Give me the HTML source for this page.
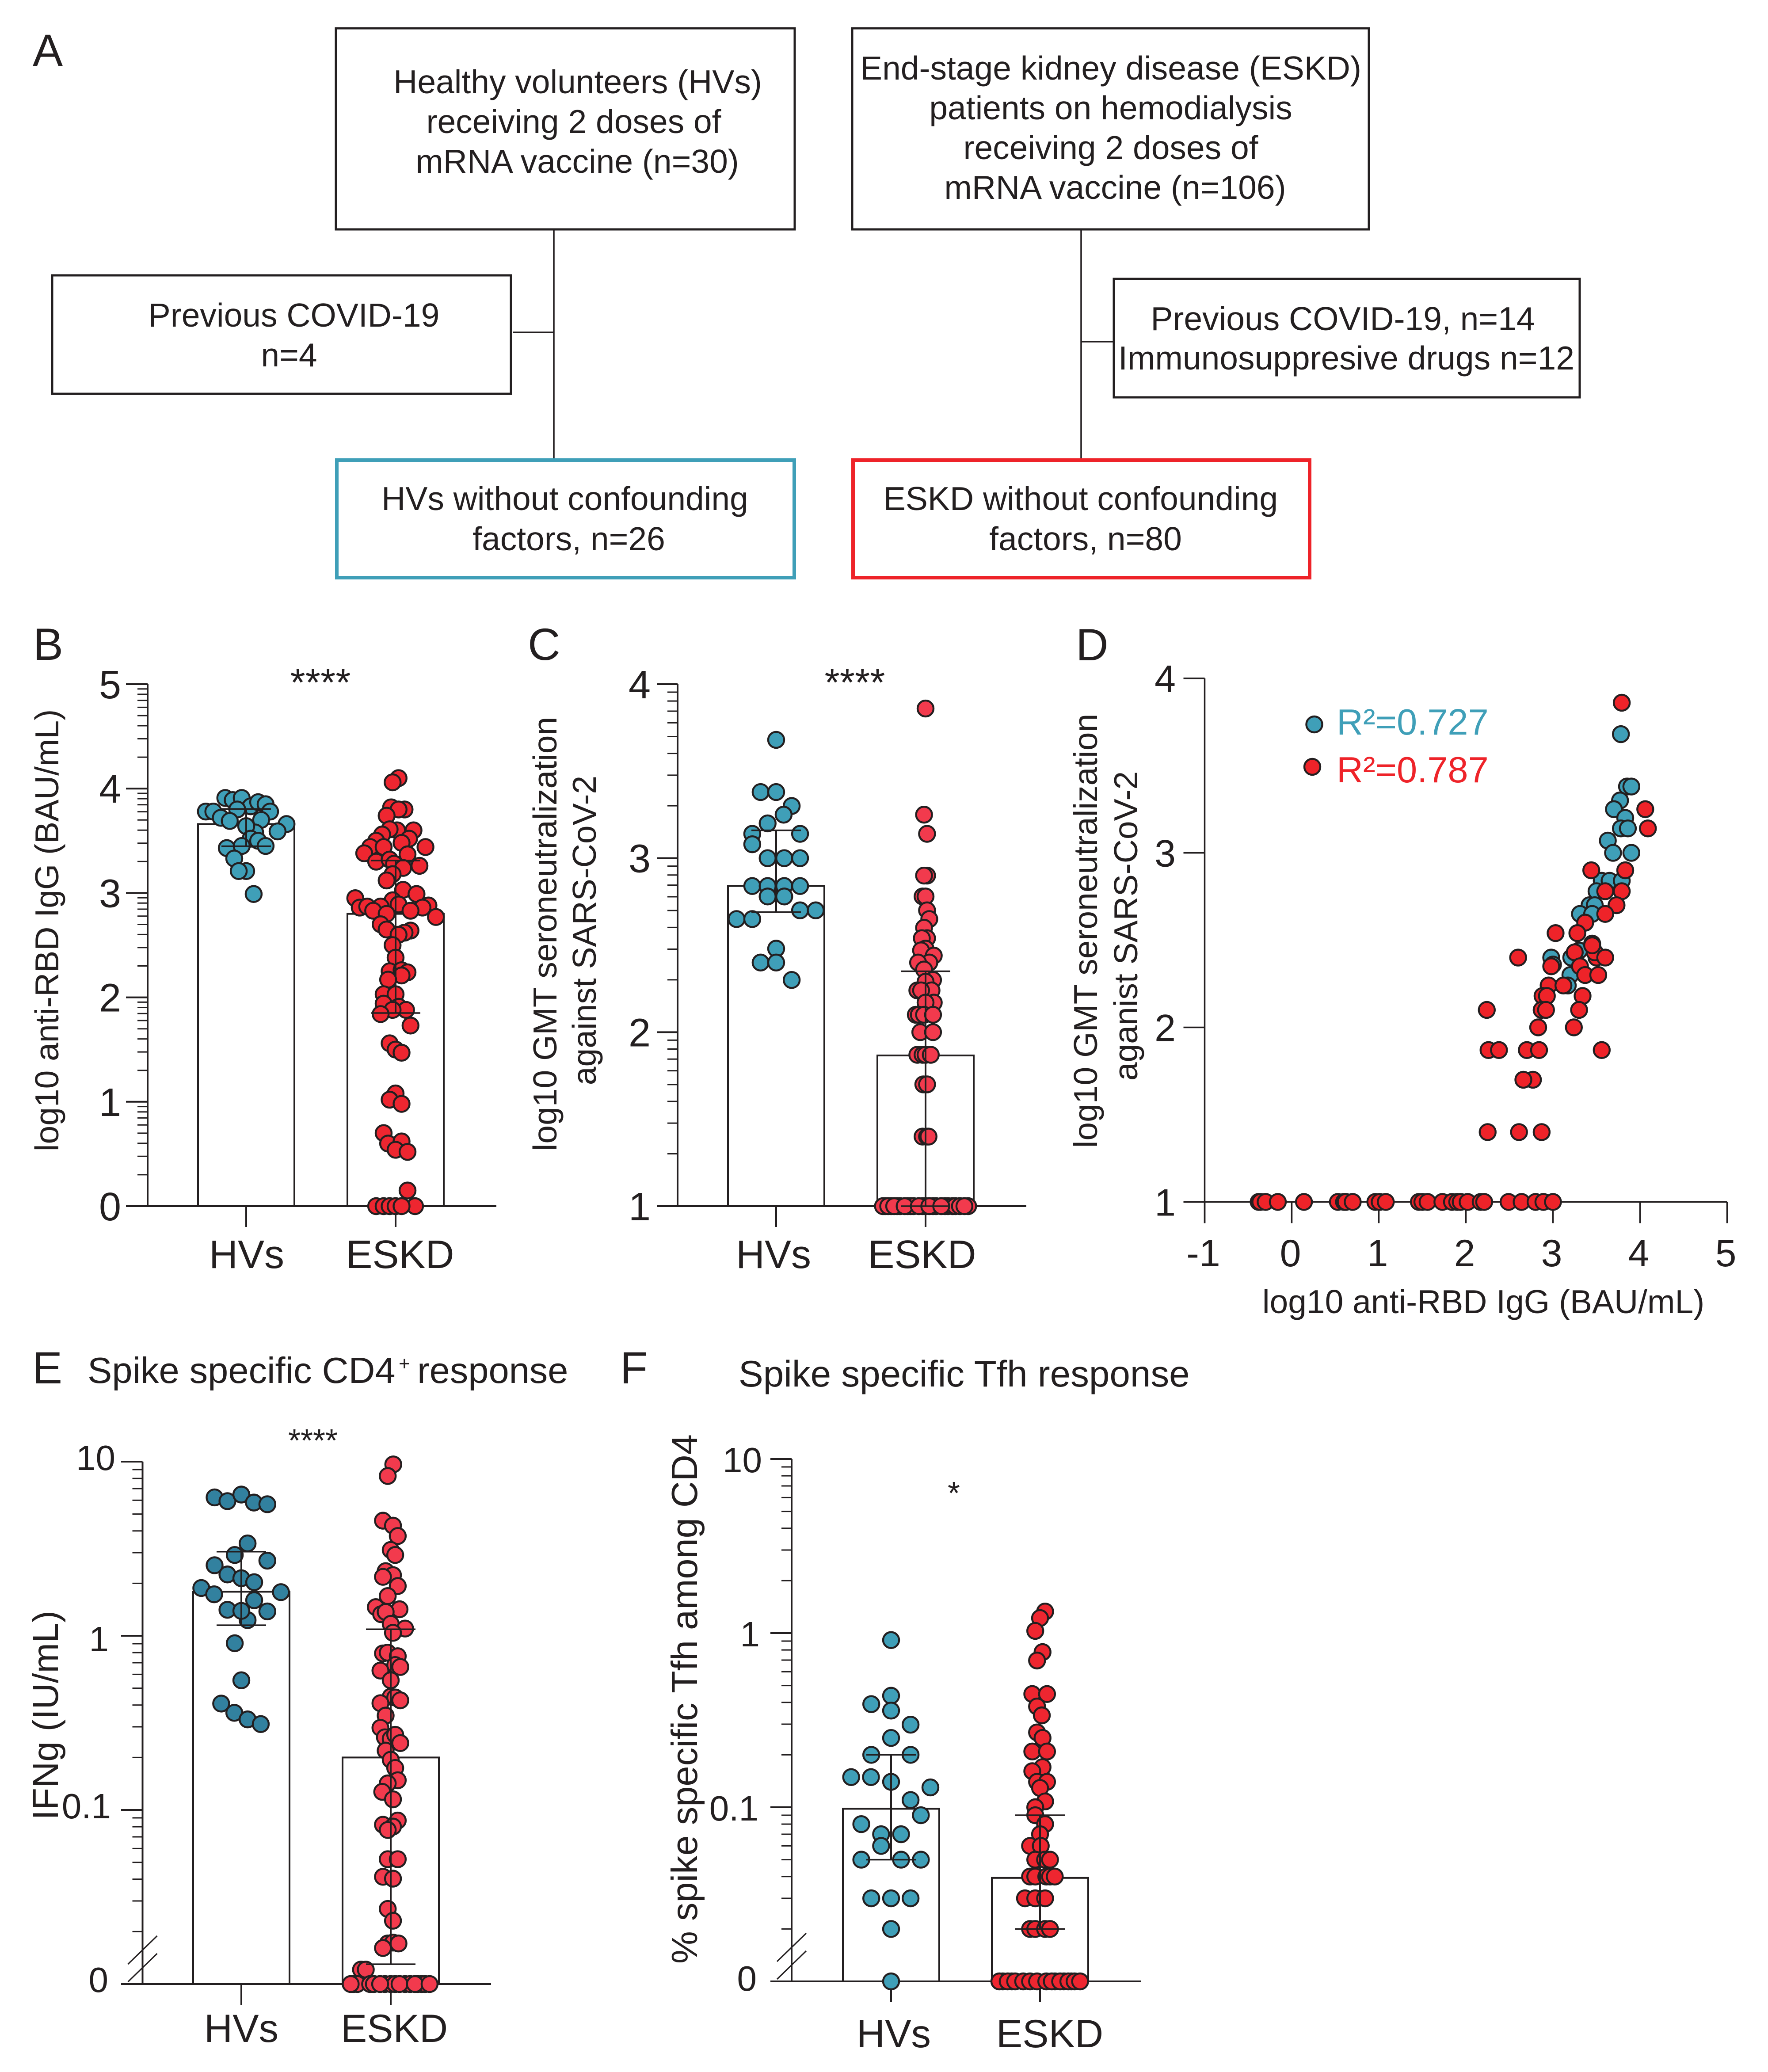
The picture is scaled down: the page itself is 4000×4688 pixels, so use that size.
<!DOCTYPE html>
<html lang="en">
<head>
<meta charset="utf-8">
<title>Vaccine response in HVs and ESKD patients</title>
<style>
html,body{margin:0;padding:0;background:#fff}
svg{display:block}
text{font-family:"Liberation Sans",Arial,sans-serif;fill:#231f20}
.ft{font-size:75px;text-anchor:middle}
.box{fill:#fff;stroke:#231f20;stroke-width:5}
.conn{stroke:#231f20;stroke-width:3.5;fill:none}
.pl{font-size:102px}
</style>
</head>
<body>
<svg id="figure" xmlns="http://www.w3.org/2000/svg" width="4000" height="4688" viewBox="0 0 4000 4688">
<rect width="4000" height="4688" fill="#fff"/>
<g>
<line class="conn" x1="1253" y1="519" x2="1253" y2="1040"/>
<line class="conn" x1="1160" y1="752" x2="1253" y2="752"/>
<line class="conn" x1="2446" y1="519" x2="2446" y2="1040"/>
<line class="conn" x1="2446" y1="773" x2="2518" y2="773"/>
<rect class="box" x="760" y="64" width="1038" height="455"/>
<rect class="box" x="1928" y="64" width="1169" height="455"/>
<rect class="box" x="118" y="623" width="1038" height="268"/>
<rect class="box" x="2520" y="631" width="1054" height="268"/>
<rect x="762" y="1041" width="1035" height="266" fill="#fff" stroke="#3f9fb8" stroke-width="8"/>
<rect x="1930" y="1041" width="1033" height="266" fill="#fff" stroke="#ee2329" stroke-width="8"/>
<text class="pl" x="74" y="149">A</text>
<text class="ft" x="1307" y="211">Healthy volunteers (HVs)</text>
<text class="ft" x="1298" y="301">receiving 2 doses of</text>
<text class="ft" x="1306" y="391">mRNA vaccine (n=30)</text>
<text class="ft" x="2513" y="180">End-stage kidney disease (ESKD)</text>
<text class="ft" x="2513" y="270">patients on hemodialysis</text>
<text class="ft" x="2513" y="360">receiving 2 doses of</text>
<text class="ft" x="2523" y="450">mRNA vaccine (n=106)</text>
<text class="ft" x="665" y="739">Previous COVID-19</text>
<text class="ft" x="654" y="829">n=4</text>
<text class="ft" x="3038" y="747">Previous COVID-19, n=14</text>
<text class="ft" x="3046" y="836">Immunosuppresive drugs n=12</text>
<text class="ft" x="1278" y="1154">HVs without confounding</text>
<text class="ft" x="1287" y="1245">factors, n=26</text>
<text class="ft" x="2445" y="1154">ESKD without confounding</text>
<text class="ft" x="2456" y="1245">factors, n=80</text>
</g>
<text class="pl" x="75" y="1493">B</text>
<text class="pl" x="1194" y="1493">C</text>
<text class="pl" x="2434" y="1494">D</text>
<text class="pl" x="73" y="3130">E</text>
<text class="pl" x="1403" y="3130">F</text>
<text y="3129" font-size="83"><tspan x="198">Spike specific CD4</tspan><tspan x="902" y="3100" font-size="44">+</tspan><tspan x="944" y="3129">response</tspan></text>
<text x="1671" y="3137" font-size="83.6">Spike specific Tfh response</text>
</svg>
<script>
// ---------- Panel B: log10 anti-RBD IgG ----------
const categories = ['HVs', 'ESKD'];
const ticksB = [0, 1, 2, 3, 4, 5];
const barsB = [3.66, 2.80];
const upperB = [3.805, 3.31];
const lowerB = [3.448, 1.85];
const hvValuesB = [3.78,3.78,3.91,3.89,3.91,3.83,3.87,3.85,3.78,3.80,3.72,3.69,3.70,3.66,3.59,3.58,3.64,3.52,3.50,3.45,3.43,3.45,3.33,3.21,3.21,2.99];
const hvJitterB = [-.27,-.22,-.14,-.09,-.03,.03,.08,.13,.16,-.06,-.17,-.11,.10,.27,.21,.06,0,.03,.08,.13,-.13,-.03,-.08,0,-.05,.05];
const eskdValuesB = [4.10,4.06,3.82,3.80,3.80,3.74,3.60,3.61,3.60,3.56,3.50,3.52,3.44,3.44,3.48,3.44,3.38,3.30,3.32,3.37,3.28,3.26,3.24,3.18,3.12,3.03,2.99,2.95,2.93,2.89,2.87,2.86,2.87,2.88,2.86,2.83,2.83,2.80,2.77,2.70,2.65,2.64,2.62,2.60,2.50,2.38,2.25,2.26,2.24,2.21,2.17,2.03,2.03,1.94,1.91,1.88,1.88,1.84,1.73,1.56,1.50,1.47,1.08,1.02,.98,.70,.60,.62,.54,.52,.15,0,0,0,0,0,0];
const eskdJitterB = [.02,-.02,-.03,.06,.02,-.06,.01,-.04,.12,-.09,-.13,.09,-.17,-.08,.04,.20,-.21,-.13,-.04,.08,-.01,.16,.05,-.02,-.06,.05,.14,-.27,-.02,.02,-.10,-.24,-.19,.22,.18,.10,-.15,-.06,.27,-.10,-.06,.10,.06,.02,-.02,0,-.04,.04,.08,.04,-.05,-.08,0,-.08,.02,.07,-.02,-.10,.10,-.04,0,.04,0,-.04,.04,-.08,-.05,.04,0,.08,.08,-.13,-.08,-.04,.13,0,.04];

// ---------- Panel C: GMT seroneutralization ----------
const ticksC = [1, 2, 3, 4];
const barsC = [2.84, 1.866];
const upperC = [3.16, 2.35];
const lowerC = [2.69, 1];
const hvValuesC = [3.68,3.38,3.38,3.30,3.25,3.20,3.14,3.14,3.08,3.00,3.00,3.00,2.84,2.84,2.84,2.84,2.78,2.78,2.70,2.70,2.65,2.65,2.48,2.40,2.40,2.30];
const hvJitterC = [0,-.104,0,.104,.05,-.057,-.16,.16,-.16,-.057,.054,.16,-.16,-.057,.054,.16,-.057,.054,.16,.265,-.265,-.16,0,-.104,0,.104];
const eskdValuesC = [3.86,3.25,3.14,2.90,2.90,2.78,2.78,2.70,2.65,2.60,2.54,2.54,2.48,2.47,2.44,2.40,2.40,2.36,2.30,2.29,2.24,2.24,2.24,2.17,2.17,2.10,2.10,2.10,2.10,2.00,2.00,1.87,1.87,1.87,1.87,1.70,1.70,1.40,1.40,1.40,1,1,1,1,1,1,1,1,1,1,1,1,1,1,1,1,1,1,1,1,1,1,1,1,1];
const eskdJitterC = [0,-.01,.01,.01,-.01,-.02,0,.01,.025,-.01,.01,-.025,0,-.03,.055,.025,-.05,-.01,.05,0,-.055,.04,-.03,.055,0,-.065,-.045,-.01,.05,-.035,.05,-.055,-.02,0,.035,-.015,.01,-.02,.01,.02,-.27,-.23,-.19,-.17,-.12,-.10,-.08,-.02,0,.05,.07,.13,.15,.18,.2,.23,.285,-.285,-.25,-.21,-.14,-.045,.025,.105,.26];

// ---------- Panel D: correlation scatter ----------
const ticksXD = [-1, 0, 1, 2, 3, 4, 5];
const ticksYD = [1, 2, 3, 4];
const hvIggD = [3.78,3.85,3.90,3.77,3.70,3.83,3.78,3.86,3.63,3.69,3.90,3.56,3.65,3.79,3.50,3.42,3.48,3.31,3.45,2.98,3.21,3.20,3.17,3.30,3.45,3.00];
const hvNeutD = [3.68,3.38,3.38,3.30,3.25,3.20,3.14,3.14,3.07,3.00,3.00,2.84,2.84,2.84,2.78,2.70,2.70,2.65,2.65,2.40,2.40,2.30,2.24,2.44,2.48,2.36];
const eskdIggD = [3.79,4.06,4.09,3.44,3.83,3.60,3.79,3.73,3.60,3.37,3.03,3.28,3.50,3.25,3.48,3.60,3.45,2.60,2.98,3.31,3.37,3.52,2.95,3.12,2.88,2.93,3.34,2.24,2.87,2.92,3.30,2.83,3.24,2.26,2.38,2.70,2.84,3.56,2.77,2.66,2.25,2.61,2.87,-.38,-.36,-.30,-.16,.14,.53,.60,.62,.70,.96,1.01,1.08,1.46,1.50,1.56,1.73,1.84,1.90,1.94,2.02,2.17,2.21,2.49,2.64,2.80,2.89,3.00];
const eskdNeutD = [3.86,3.25,3.14,2.90,2.90,2.78,2.78,2.70,2.65,2.60,2.54,2.54,2.40,2.43,2.43,2.40,2.47,2.40,2.35,2.35,2.30,2.30,2.24,2.24,2.18,2.18,2.18,2.10,2.10,2.10,2.10,2.00,2.00,1.87,1.87,1.87,1.87,1.87,1.70,1.70,1.40,1.40,1.40,1,1,1,1,1,1,1,1,1,1,1,1,1,1,1,1,1,1,1,1,1,1,1,1,1,1,1];
const r2Labels = ['R²=0.727', 'R²=0.787'];

// ---------- Panel E: IFNg ----------
const ticksE = [10, 1, 0.1, 0];
const barsE = [1.79, 0.2];
const upperE = [3.04, 1.09];
const lowerE = [1.15, 0.013];
const hvValuesE = [6.23,5.93,6.47,5.82,5.69,3.39,2.91,2.70,2.54,2.25,2.14,2.03,1.88,1.73,1.78,1.60,1.23,1.41,1.39,1.38,.906,.555,.408,.361,.331,.311];
const hvJitterE = [-.179,-.093,0,.084,.174,.042,-.044,.174,-.179,-.093,0,.086,-.268,-.182,.265,.086,.042,-.093,0,.174,-.044,0,-.135,-.047,.042,.13];
const eskdValuesE = [9.64,8.27,4.58,4.29,3.74,3.11,2.91,2.35,2.23,2.18,1.93,1.69,1.46,1.42,1.33,1.37,1.17,1.10,1.04,.792,.80,.763,.679,.662,.631,.555,.447,.442,.426,.41,.348,.296,.261,.256,.27,.242,.219,.194,.174,.148,.142,.127,.115,.0869,.0822,.0802,.0767,.0521,.0521,.0413,.0403,.027,.0231,.0171,.0173,.0171,.0161,.0121,.0121,0,0,0,0,0,0,0,0,0,0,0,0,0,0,0,0,0];
const eskdJitterE = [.017,-.02,-.052,.015,.047,0,.03,-.034,.015,-.052,.047,-.02,-.1,.059,-.064,-.034,0,.096,.015,-.052,-.02,.047,.03,.064,-.069,0,0,.03,.064,-.069,-.034,-.069,-.039,0,.03,.064,-.034,0,.03,.047,-.02,-.057,.015,.047,-.052,.015,-.02,-.02,.047,-.052,.015,-.02,.015,-.02,.015,.052,-.052,-.199,-.167,-.25,-.224,-.138,-.113,-.039,0,.03,.096,.13,.18,.206,.23,-.268,-.071,.059,.162,.26];

// ---------- Panel F: Tfh ----------
const ticksF = [10, 1, 0.1, 0];
const barsF = [0.098, 0.0393];
const upperF = [0.2, 0.09];
const lowerF = [0.05, 0.02];
const hvValuesF = [.912,.437,.391,.359,.298,.25,.2,.2,.149,.149,.14,.13,.11,.09,.08,.07,.07,.06,.05,.05,.05,.03,.03,.03,.02,0];
const hvJitterF = [0,0,-.133,0,.131,0,-.133,.131,-.268,-.135,0,.264,.131,.2,-.2,-.067,.067,-.067,-.2,.067,.2,-.133,0,.131,0,0];
const eskdValuesF = [1.33,1.22,1.03,.778,.696,.447,.447,.379,.337,.269,.25,.209,.209,.17,.161,.14,.14,.129,.108,.10,.09,.08,.07,.06,.06,.05,.05,.05,.04,.04,.04,.04,.04,.03,.03,.03,.02,.02,.02,.02,0,0,0,0,0,0,0,0,0,0,0,0,0,0,0,0,0];
const eskdJitterF = [.034,0,-.032,.017,-.02,-.052,.047,-.02,.012,-.02,.017,-.052,.047,.017,-.052,-.02,.047,0,.034,-.032,-.032,.034,0,-.067,.005,-.032,.034,.067,-.067,-.032,.042,.067,.099,-.101,-.032,.034,-.067,-.032,.034,.067,-.25,-.19,.1,.16,.21,-.273,-.217,-.167,-.113,-.067,-.02,.042,.079,.135,.19,.232,.269];

const INK = '#231f20';
const NS = 'http://www.w3.org/2000/svg';
const figure = document.getElementById('figure');

function add(parent, tag, attrs, name) {
  const el = document.createElementNS(NS, tag);
  for (const k in attrs) el.setAttribute(k, attrs[k]);
  
  
  parent.appendChild(el);
  return el;
}
function line(g, x1, y1, x2, y2, w, name) {
  return add(g, 'line', {x1, y1, x2, y2, stroke: INK, 'stroke-width': w}, name);
}
function label(g, x, y, str, size, anchor, name, rotate) {
  const attrs = {x, y, 'font-size': size, 'text-anchor': anchor};
  if (rotate) attrs.transform = 'rotate(-90 ' + x + ' ' + y + ')';
  const t = add(g, 'text', attrs, name);
  t.textContent = str;
  return t;
}
function dot(g, x, y, fill, name) {
  return add(g, 'circle', {cx: x, cy: y, r: 18, fill, stroke: INK, 'stroke-width': 4.4}, name);
}

// Bar + swarm panel drawn entirely from the arrays passed in
function swarmPanel(p) {
  const g = add(figure, 'g', {}, p.name);
  const y = p.y;
  const x0 = y(p.baseValue);
  const spacing = p.centers[1] - p.centers[0];
  // axes
  line(g, p.axisX, y(p.topValue), p.axisX, x0 + 2, 4, 'y-axis');
  line(g, p.tickLeft, x0, p.right, x0, 4, 'x-axis');
  p.minors.forEach(v => {
    line(g, p.axisX - 23, y(v), p.axisX, y(v), 3, 'y-minor-tick');
  });
  p.ticks.forEach(v => {
    const pl = (p.place && p.place[String(v)]) || [p.labelRight, p.labelDy];
    line(g, p.tickLeft, y(v), p.axisX, y(v), 4, 'y-major-tick');
    label(g, pl[0], y(v) + pl[1], String(v), p.tickFont, 'end', 'y-tick-label');
  });
  if (p.breakMarks) {
    const ax = p.axisX;
    line(g, ax - 33, x0 - 45, ax + 33, x0 - 109, 3, 'axis-break-mark');
    line(g, ax - 33, x0 - 5, ax + 33, x0 - 69, 3, 'axis-break-mark');
  }
  categories.forEach((c, i) => {
    const cx = p.centers[i];
    line(g, cx, x0, cx, x0 + 47, 4, 'x-tick');
    label(g, p.labelXs[i], p.catBaseline, c, p.catFont, 'middle', 'x-tick-label-' + c.toLowerCase());
    add(g, 'rect', {x: cx - 109, y: y(p.bars[i]), width: 218, height: x0 - y(p.bars[i]), fill: '#fff', stroke: INK, 'stroke-width': 4}, 'bar-' + c.toLowerCase());
  });
  p.hv.forEach((v, i) => {
    dot(g, p.centers[0] + p.hvJ[i] * spacing, y(v), p.teal, 'hv-point');
  });
  p.eskd.forEach((v, i) => {
    dot(g, p.centers[1] + p.eskdJ[i] * spacing, y(v), p.red, 'eskd-point');
  });
  categories.forEach((c, i) => {
    const cx = p.centers[i], u = y(p.upper[i]), l = y(p.lower[i]);
    line(g, cx, u, cx, l, 4, 'error-bar-' + c.toLowerCase());
    line(g, cx - 56, u, cx + 56, u, 3.5, 'error-cap-upper');
    line(g, cx - 56, l, cx + 56, l, 3.5, 'error-cap-lower');
  });
  label(g, p.starX, p.starY, p.stars, p.starFont, 'middle', 'significance-marker');
  p.yTitles.forEach(t => {
    label(g, t[0], t[1], t[2], t[3], 'middle', 'y-axis-title', true);
  });
}

function logFractionMinors(lo, hi) {
  const out = [];
  for (let n = lo; n < hi; n++) for (let k = 2; k < 10; k++) out.push(n + Math.log10(k));
  return out;
}
function decadeMinors() {
  const out = [];
  [-2, -1, 0].forEach(d => { for (let k = 2; k < 10; k++) out.push(k * Math.pow(10, d)); });
  return out;
}
function logY(yOne) {
  return v => yOne - Math.log10(Math.max(v, 0.01)) * 394;
}

swarmPanel({
  name: 'panel-b-anti-rbd-igg', y: v => 2729 - v * 236.2, baseValue: 0, topValue: 5, axisX: 334, tickLeft: 285, right: 1123,
  minors: logFractionMinors(0, 5), ticks: ticksB, labelRight: 274, labelDy: 32, tickFont: 90,
  centers: [557, 895], labelXs: [558, 905], catBaseline: 2869, catFont: 90,
  bars: barsB, upper: upperB, lower: lowerB, hv: hvValuesB, hvJ: hvJitterB, eskd: eskdValuesB, eskdJ: eskdJitterB,
  teal: '#3f9fb8', red: '#ee2630', stars: '****', starX: 725, starY: 1574, starFont: 88,
  yTitles: [[132, 2105, 'log10 anti-RBD IgG (BAU/mL)', 75]]
});
swarmPanel({
  name: 'panel-c-seroneutralization', y: v => 2729 - (v - 1) * 393.67, baseValue: 1, topValue: 4, axisX: 1533, tickLeft: 1486, right: 2322,
  minors: logFractionMinors(1, 4), ticks: ticksC, labelRight: 1472, labelDy: 32, tickFont: 90,
  centers: [1756, 2094], labelXs: [1750, 2086], catBaseline: 2869, catFont: 90,
  bars: barsC, upper: upperC, lower: lowerC, hv: hvValuesC, hvJ: hvJitterC, eskd: eskdValuesC, eskdJ: eskdJitterC,
  teal: '#3f9fb8', red: '#f23a4d', stars: '****', starX: 1934, starY: 1574, starFont: 88,
  yTitles: [[1259, 2113, 'log10 GMT seroneutralization', 75], [1348, 2105, 'against SARS-CoV-2', 75]]
});
swarmPanel({
  name: 'panel-e-ifng', y: logY(3701), baseValue: 0, topValue: 10, axisX: 322.5, tickLeft: 274, right: 1111, breakMarks: true,
  minors: decadeMinors(), ticks: ticksE, labelRight: 250, labelDy: 26, tickFont: 80,
  place: {'10': [261, 19], '1': [246, 35], '0.1': [251, 19], '0': [245, 18]},
  centers: [546, 884], labelXs: [546, 892], catBaseline: 4620, catFont: 89,
  bars: barsE, upper: upperE, lower: lowerE, hv: hvValuesE, hvJ: hvJitterE, eskd: eskdValuesE, eskdJ: eskdJitterE,
  teal: '#32819f', red: '#f23a4d', stars: '****', starX: 708, starY: 3284, starFont: 72,
  yTitles: [[131, 3881, 'IFNg (IU/mL)', 82]]
});
swarmPanel({
  name: 'panel-f-tfh', y: logY(3695), baseValue: 0, topValue: 10, axisX: 1791, tickLeft: 1743, right: 2581, breakMarks: true,
  minors: decadeMinors(), ticks: ticksF, labelRight: 1714, labelDy: 30, tickFont: 80,
  place: {'10': [1724, 30], '1': [1719, 30], '0.1': [1716, 30], '0': [1712, 21]},
  centers: [2016, 2353], labelXs: [2022, 2375], catBaseline: 4632, catFont: 89,
  bars: barsF, upper: upperF, lower: lowerF, hv: hvValuesF, hvJ: hvJitterF, eskd: eskdValuesF, eskdJ: eskdJitterF,
  teal: '#3f9fb8', red: '#ee2630', stars: '*', starX: 2158, starY: 3403, starFont: 72,
  yTitles: [[1577, 3844, '% spike specific Tfh among CD4', 83]]
});

// Scatter panel D
(function () {
  const g = add(figure, 'g', {}, 'panel-d-correlation');
  const xs = v => 2922.5 + v * 197;
  const ys = v => 2719.4 - (v - 1) * 394.9;
  const axisX = xs(-1), base = ys(1);
  line(g, axisX, ys(4), axisX, base + 48, 3.5, 'y-axis');
  line(g, axisX - 48, base, xs(5), base, 3.5, 'x-axis');
  ticksYD.forEach(v => {
    line(g, axisX - 48, ys(v), axisX, ys(v), 3.5, 'y-major-tick');
    label(g, 2660, ys(v) + 31, String(v), 86, 'end', 'y-tick-label');
  });
  ticksXD.forEach(v => {
    line(g, xs(v), base, xs(v), base + 48, 3.5, 'x-tick');
    label(g, xs(v) - 3, 2865, String(v), 86, 'middle', 'x-tick-label');
  });
  hvIggD.forEach((v, i) => {
    dot(g, xs(v), ys(hvNeutD[i]), '#3f9fb8', 'hv-point');
  });
  eskdIggD.forEach((v, i) => {
    dot(g, xs(v), ys(eskdNeutD[i]), '#ee2329', 'eskd-point');
  });
  dot(g, 2973.5, 1639, '#3f9fb8', 'legend-marker-hv');
  dot(g, 2969, 1735, '#ee2329', 'legend-marker-eskd');
  const t1 = label(g, 3024, 1662, r2Labels[0], 83, 'start', 'legend-entry-hv');
  t1.style.fill = '#3f9fb8';
  const t2 = label(g, 3024, 1770, r2Labels[1], 83, 'start', 'legend-entry-eskd');
  t2.style.fill = '#ee2329';
  label(g, 3356, 2971, 'log10 anti-RBD IgG (BAU/mL)', 75, 'middle', 'x-axis-title');
  label(g, 2482, 2106, 'log10 GMT seroneutralization', 75, 'middle', 'y-axis-title', true);
  label(g, 2573, 2095, 'aganist SARS-CoV-2', 75, 'middle', 'y-axis-title-line-2', true);
})();
</script>
</body>
</html>
